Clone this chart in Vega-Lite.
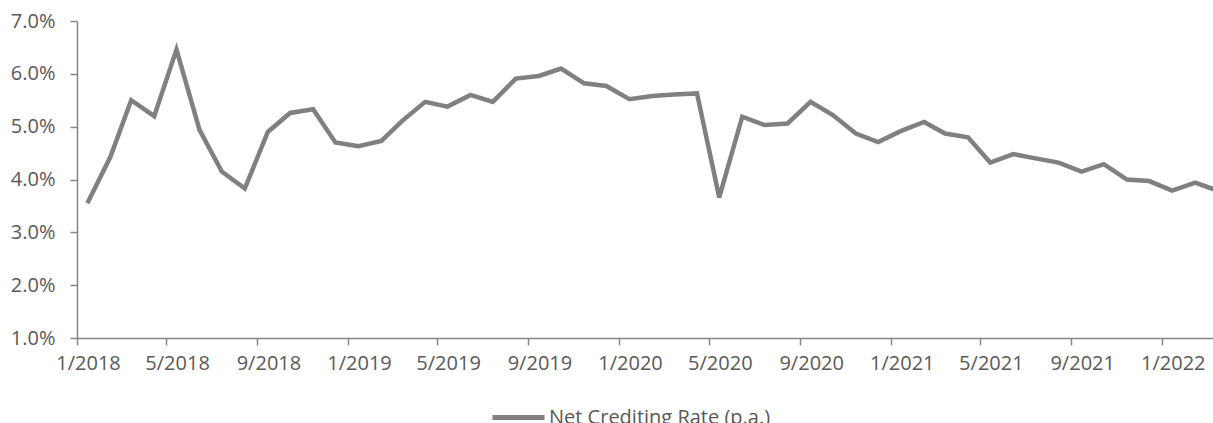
{
  "$schema": "https://vega.github.io/schema/vega-lite/v6.json",
  "width": 1136,
  "height": 317,
  "autosize": "none",
  "padding": {"left": 77, "top": 21, "right": 0, "bottom": 85},
  "background": "white",
  "config": {
    "view": {"stroke": null},
    "font": "Open Sans",
    "axis": {
      "domainColor": "#868686",
      "domainWidth": 1.5,
      "tickColor": "#868686",
      "tickWidth": 1.5,
      "tickSize": 7,
      "labelColor": "#595959",
      "labelFontSize": 20,
      "labelFont": "Open Sans",
      "grid": false,
      "title": null
    }
  },
  "data": {
    "values": [
      {"date": "2018-01-15", "rate": 0.0355, "series": "Net Crediting Rate (p.a.)"},
      {"date": "2018-02-15", "rate": 0.0443, "series": "Net Crediting Rate (p.a.)"},
      {"date": "2018-03-15", "rate": 0.0550, "series": "Net Crediting Rate (p.a.)"},
      {"date": "2018-04-15", "rate": 0.0520, "series": "Net Crediting Rate (p.a.)"},
      {"date": "2018-05-15", "rate": 0.0646, "series": "Net Crediting Rate (p.a.)"},
      {"date": "2018-06-15", "rate": 0.0494, "series": "Net Crediting Rate (p.a.)"},
      {"date": "2018-07-15", "rate": 0.0415, "series": "Net Crediting Rate (p.a.)"},
      {"date": "2018-08-15", "rate": 0.0383, "series": "Net Crediting Rate (p.a.)"},
      {"date": "2018-09-15", "rate": 0.0490, "series": "Net Crediting Rate (p.a.)"},
      {"date": "2018-10-15", "rate": 0.0526, "series": "Net Crediting Rate (p.a.)"},
      {"date": "2018-11-15", "rate": 0.0533, "series": "Net Crediting Rate (p.a.)"},
      {"date": "2018-12-15", "rate": 0.0470, "series": "Net Crediting Rate (p.a.)"},
      {"date": "2019-01-15", "rate": 0.0463, "series": "Net Crediting Rate (p.a.)"},
      {"date": "2019-02-15", "rate": 0.0473, "series": "Net Crediting Rate (p.a.)"},
      {"date": "2019-03-15", "rate": 0.0511, "series": "Net Crediting Rate (p.a.)"},
      {"date": "2019-04-15", "rate": 0.0547, "series": "Net Crediting Rate (p.a.)"},
      {"date": "2019-05-15", "rate": 0.0538, "series": "Net Crediting Rate (p.a.)"},
      {"date": "2019-06-15", "rate": 0.0560, "series": "Net Crediting Rate (p.a.)"},
      {"date": "2019-07-15", "rate": 0.0547, "series": "Net Crediting Rate (p.a.)"},
      {"date": "2019-08-15", "rate": 0.0591, "series": "Net Crediting Rate (p.a.)"},
      {"date": "2019-09-15", "rate": 0.0596, "series": "Net Crediting Rate (p.a.)"},
      {"date": "2019-10-15", "rate": 0.0610, "series": "Net Crediting Rate (p.a.)"},
      {"date": "2019-11-15", "rate": 0.0582, "series": "Net Crediting Rate (p.a.)"},
      {"date": "2019-12-15", "rate": 0.0577, "series": "Net Crediting Rate (p.a.)"},
      {"date": "2020-01-15", "rate": 0.0552, "series": "Net Crediting Rate (p.a.)"},
      {"date": "2020-02-15", "rate": 0.0558, "series": "Net Crediting Rate (p.a.)"},
      {"date": "2020-03-15", "rate": 0.0561, "series": "Net Crediting Rate (p.a.)"},
      {"date": "2020-04-15", "rate": 0.0563, "series": "Net Crediting Rate (p.a.)"},
      {"date": "2020-05-15", "rate": 0.0366, "series": "Net Crediting Rate (p.a.)"},
      {"date": "2020-06-15", "rate": 0.0519, "series": "Net Crediting Rate (p.a.)"},
      {"date": "2020-07-15", "rate": 0.0503, "series": "Net Crediting Rate (p.a.)"},
      {"date": "2020-08-15", "rate": 0.0506, "series": "Net Crediting Rate (p.a.)"},
      {"date": "2020-09-15", "rate": 0.0547, "series": "Net Crediting Rate (p.a.)"},
      {"date": "2020-10-15", "rate": 0.0522, "series": "Net Crediting Rate (p.a.)"},
      {"date": "2020-11-15", "rate": 0.0487, "series": "Net Crediting Rate (p.a.)"},
      {"date": "2020-12-15", "rate": 0.0471, "series": "Net Crediting Rate (p.a.)"},
      {"date": "2021-01-15", "rate": 0.0492, "series": "Net Crediting Rate (p.a.)"},
      {"date": "2021-02-15", "rate": 0.0509, "series": "Net Crediting Rate (p.a.)"},
      {"date": "2021-03-15", "rate": 0.0487, "series": "Net Crediting Rate (p.a.)"},
      {"date": "2021-04-15", "rate": 0.0480, "series": "Net Crediting Rate (p.a.)"},
      {"date": "2021-05-15", "rate": 0.0432, "series": "Net Crediting Rate (p.a.)"},
      {"date": "2021-06-15", "rate": 0.0448, "series": "Net Crediting Rate (p.a.)"},
      {"date": "2021-07-15", "rate": 0.0440, "series": "Net Crediting Rate (p.a.)"},
      {"date": "2021-08-15", "rate": 0.0432, "series": "Net Crediting Rate (p.a.)"},
      {"date": "2021-09-15", "rate": 0.0415, "series": "Net Crediting Rate (p.a.)"},
      {"date": "2021-10-15", "rate": 0.0429, "series": "Net Crediting Rate (p.a.)"},
      {"date": "2021-11-15", "rate": 0.0400, "series": "Net Crediting Rate (p.a.)"},
      {"date": "2021-12-15", "rate": 0.0397, "series": "Net Crediting Rate (p.a.)"},
      {"date": "2022-01-15", "rate": 0.0379, "series": "Net Crediting Rate (p.a.)"},
      {"date": "2022-02-15", "rate": 0.0394, "series": "Net Crediting Rate (p.a.)"},
      {"date": "2022-03-15", "rate": 0.0380, "series": "Net Crediting Rate (p.a.)"}
    ]
  },
  "mark": {"type": "line", "strokeWidth": 4.5, "clip": true},
  "encoding": {
    "x": {
      "field": "date",
      "type": "temporal",
      "scale": {
        "type": "utc",
        "domain": [
          {"year": 2018, "month": 1, "date": 1, "utc": true},
          {"year": 2022, "month": 3, "date": 11, "utc": true}
        ]
      },
      "axis": {
        "labelExpr": "utcFormat(datum.value, '%-m/%Y')",
        "tickCount": {"interval": "month", "step": 4},
        "labelPadding": 8,
        "labelOffset": 11,
        "labelFlush": false,
        "labelOverlap": false
      }
    },
    "y": {
      "field": "rate",
      "type": "quantitative",
      "scale": {"domain": [0.01, 0.07], "nice": false, "zero": false},
      "axis": {
        "format": ".1%",
        "values": [0.01, 0.02, 0.03, 0.04, 0.05, 0.06, 0.07],
        "labelPadding": 15
      }
    },
    "color": {
      "field": "series",
      "type": "nominal",
      "scale": {"range": ["#808080"]},
      "legend": {
        "title": null,
        "orient": "none",
        "legendX": 413,
        "legendY": 368,
        "symbolType": "stroke",
        "symbolSize": 2704,
        "symbolStrokeWidth": 5,
        "symbolStrokeColor": "#808080",
        "labelFontSize": 20,
        "labelColor": "#595959",
        "labelFont": "Open Sans",
        "labelLimit": 0,
        "labelOffset": 2
      }
    }
  }
}
